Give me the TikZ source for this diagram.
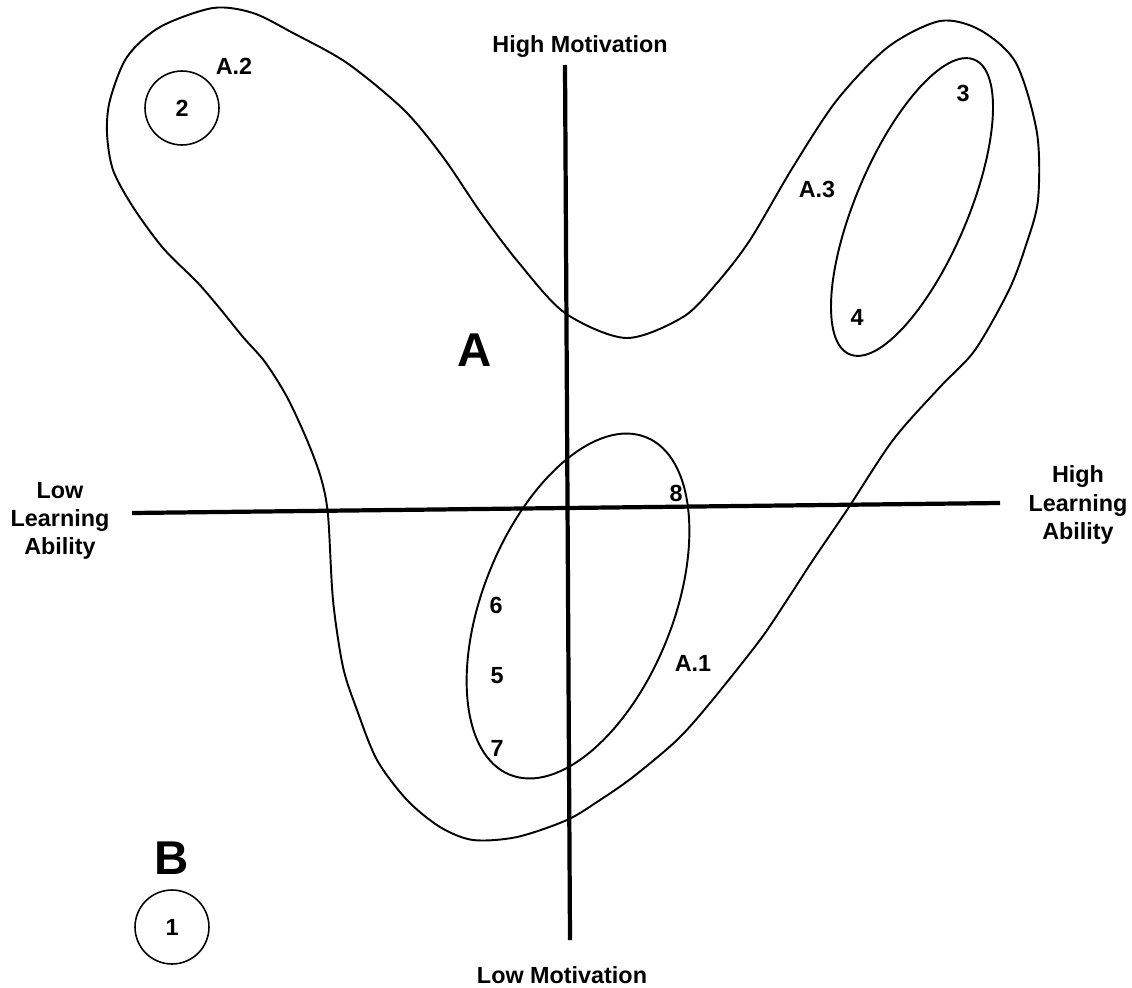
\documentclass[tikz,border=0pt]{standalone}
\usepackage{fontspec}
\setmainfont{Liberation Sans}
\usepackage{tikz}

\begin{document}
\begin{tikzpicture}[x=0.02cm,y=-0.02cm,
    lbl/.style={font=\fontsize{13.3}{16}\selectfont\bfseries},
    big/.style={font=\fontsize{27}{30}\selectfont\bfseries},
    blob/.style={line width=1.1pt},
    axis/.style={line width=2.4pt}]
  \useasboundingbox (0,0) rectangle (1132,987);
  % axes: learning ability (horizontal), motivation (vertical)
  \coordinate (lw) at (132,513); \coordinate (hi) at (1000,503);
  \coordinate (top) at (565,65); \coordinate (bot) at (570,940);
  \draw[axis] (lw) -- (hi);
  \draw[axis] (top) -- (bot);
  \node[lbl] (hm) at (580,47) {High Motivation};
  \node[lbl] (lm) at (562,975) {Low Motivation};
  \node[lbl,align=center] (lla) at (60,521) {Low\\Learning\\Ability};
  \node[lbl,align=center] (hla) at (1078,505) {High\\Learning\\Ability};
  % cluster A
  \draw[blob] plot[smooth cycle] coordinates {
    (213,8) (253,13) (293,33) (347,63) (404,110) (443,157) (481,213)
    (519,263) (565,313) (626,338) (683,317) (717,283) (750,240) (793,167)
    (837,100) (888,47) (940,21) (980,30) (1016,63) (1037,133) (1038,200)
    (1026,245) (1009,290) (975,350) (940,387) (893,440) (847,510)
    (813,560) (787,600) (760,640) (710,703) (677,740) (633,777) (600,800)
    (567,820) (517,837) (473,840) (440,827) (407,800) (377,760) (357,710)
    (343,667) (333,600) (328,515) (321,478) (307,440) (287,397) (265,362)
    (243,337) (217,305) (197,282) (163,248) (133,207) (113,170) (107,133)
    (110,100) (127,57) (160,27)};
  \node[big] (A) at (475,350) {A};
  % sub-cluster A.1
  \draw[blob,rotate around={68:(578,606)}] (578,606) ellipse [x radius=3.64cm, y radius=1.9cm];
  \node[lbl] (a1) at (693,663) {A.1};
  \node[lbl] (n8) at (676,493) {8};
  \node[lbl] (n6) at (496,605) {6};
  \node[lbl] (n5) at (497,676) {5};
  \node[lbl] (n7) at (497,748) {7};
  % sub-cluster A.2
  \node[lbl,circle,draw,line width=0.9pt,minimum size=1.48cm,inner sep=0pt] (n2) at (182,108) {2};
  \node[lbl] (a2) at (234,66) {A.2};
  % sub-cluster A.3
  \draw[blob,rotate around={67:(912,207)}] (912,207) ellipse [x radius=3.2cm, y radius=1.12cm];
  \node[lbl] (a3) at (817,189) {A.3};
  \node[lbl] (n3) at (963,93) {3};
  \node[lbl] (n4) at (857,317) {4};
  % cluster B
  \node[big] (B) at (172,858) {B};
  \node[lbl,circle,draw,line width=0.9pt,minimum size=1.48cm,inner sep=0pt] (n1) at (172,927) {1};
\end{tikzpicture}
\end{document}
